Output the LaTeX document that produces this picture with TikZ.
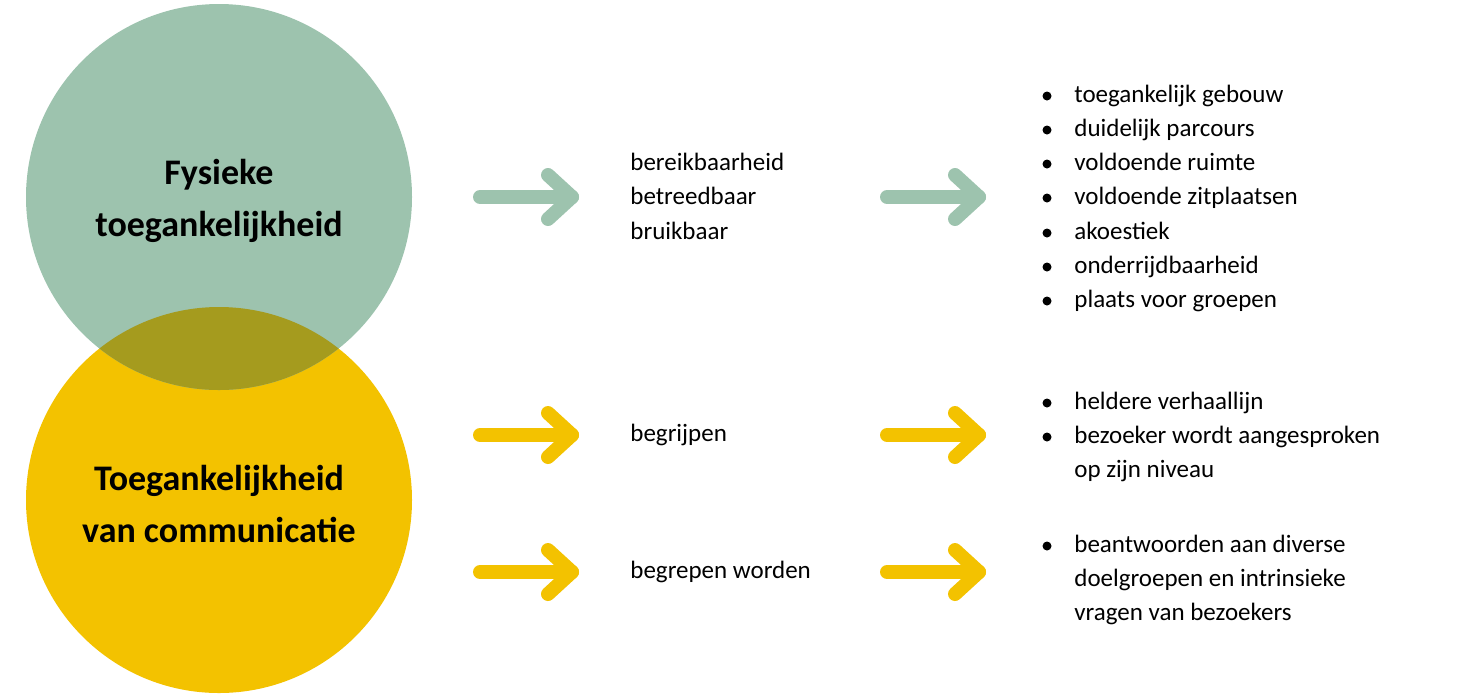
\documentclass[tikz,border=0pt]{standalone}
\usepackage{fontspec}
\setmainfont{Carlito}
\usetikzlibrary{calc}
\definecolor{gr}{HTML}{9DC3AE}
\definecolor{ye}{HTML}{F3C200}
\definecolor{ol}{HTML}{A59B1E}
\begin{document}
\begin{tikzpicture}[x=0.5pt,y=-0.5pt,
 txt/.style={anchor=west,inner sep=0pt,font=\fontsize{12.5}{15}\selectfont,text height=9pt,text depth=2.5pt},
 big/.style={align=center,font=\fontsize{18}{26}\selectfont\bfseries},
 arr/.style={line width=7pt,line cap=round,line join=round}]
\useasboundingbox (0,0) rectangle (1465,698);
\fill[ye] (219,500) circle[radius=193];
\fill[gr] (219,197) circle[radius=193];
\begin{scope}
\clip (219,500) circle[radius=193];
\fill[ol] (219,197) circle[radius=193];
\end{scope}
\node[big] (c1) at (219,201) {Fysieke\\toegankelijkheid};
\node[big] (c2) at (219,504) {Toegankelijkheid\\van communicatie};
\foreach \x/\y/\c/\n in {480/197/gr/a1,887/197/gr/a2,480/435/ye/a3,887/435/ye/a4,480/572/ye/a5,887/572/ye/a6}{
 \coordinate (\n s) at (\x,\y);
 \coordinate (\n e) at (\x+92,\y);
 \draw[arr,\c] (\n s) -- (\n e);
 \draw[arr,\c] ($(\n e)+(-24,-22)$) -- (\n e) -- ($(\n e)+(-24,22)$);
}
\foreach \t/\y/\n in {bereikbaarheid/164/m1,betreedbaar/198/m2,bruikbaar/233/m3,begrijpen/435/m4,begrepen worden/572/m5}
 \node[txt] (\n) at (630,\y) {\t};
\foreach \t/\y/\b/\n in {toegankelijk gebouw/96/1/r1,duidelijk parcours/130/1/r2,voldoende ruimte/164/1/r3,voldoende zitplaatsen/198/1/r4,akoestiek/233/1/r5,onderrijdbaarheid/267/1/r6,plaats voor groepen/301/1/r7,heldere verhaallijn/403/1/r8,bezoeker wordt aangesproken/437/1/r9,op zijn niveau/471/0/r10,beantwoorden aan diverse/546/1/r11,doelgroepen en intrinsieke/580/0/r12,vragen van bezoekers/614/0/r13}{
 \node[txt] (\n) at (1074,\y) {\t};
 \ifnum\b=1 \fill (1047,\y) circle[radius=4.5]; \fi
}
\end{tikzpicture}
\end{document}
